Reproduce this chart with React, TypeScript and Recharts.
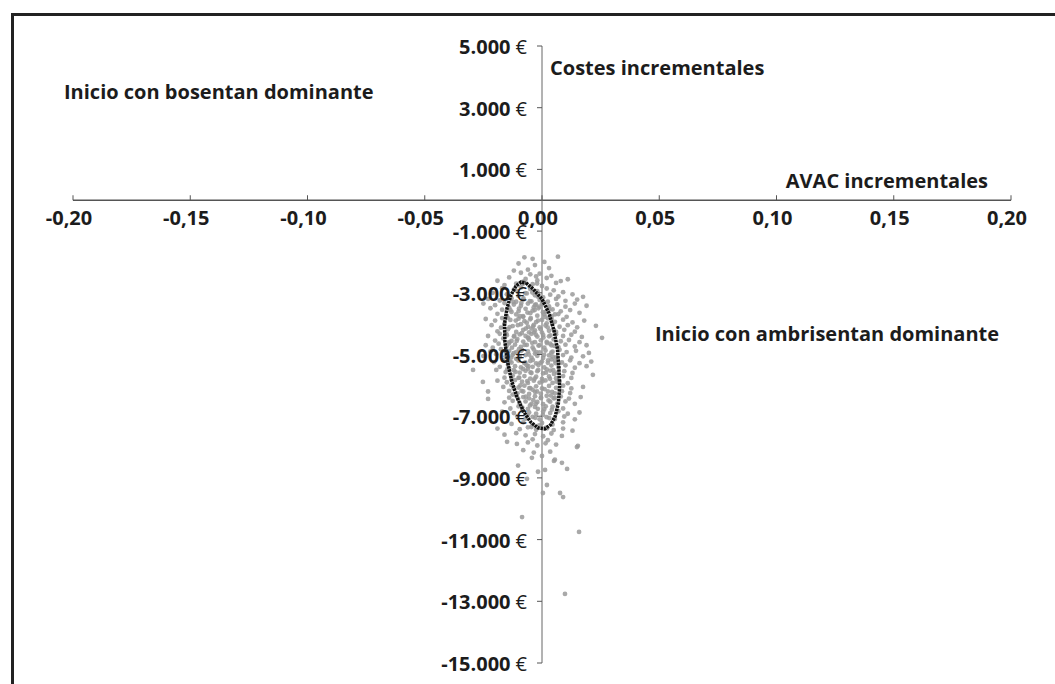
import { ScatterChart, Scatter, XAxis, YAxis, ReferenceLine } from 'recharts'

const X_MIN = -0.2
const X_MAX = 0.2
const Y_MIN = -15000
const Y_MAX = 5000

const X_TICKS = [-0.2, -0.15, -0.1, -0.05, 0, 0.05, 0.1, 0.15, 0.2]
const Y_TICKS = [-15000, -13000, -11000, -9000, -7000, -5000, -3000, -1000, 1000, 3000, 5000]

// incremental QALY, incremental cost (€) per simulation
const simulations: [number, number][] = [
  [-0.0075, -1850], [-0.004, -1900], [0.0068, -1830], [-0.01, -2050], [-0.003, -2100], [0.001, -2000], [-0.006, -2250], [0.003, -2200], [-0.012, -2280],
  [-0.009, -2350], [-0.005, -2400], [-0.001, -2380], [0.004, -2450], [-0.014, -2500], [-0.007, -2550], [-0.002, -2600], [0.002, -2520], [0.008, -2620],
  [-0.011, -2700], [-0.016, -2750], [-0.004, -2720], [0.0, -2780], [0.006, -2680], [-0.008, -2640], [0.011, -2560], [-0.019, -2610], [-0.0025, -2470],
  [-0.017, -2850], [-0.012, -2900], [-0.009, -2830], [-0.005, -2880], [-0.002, -2950], [0.002, -2860], [0.005, -2920], [0.009, -2980], [0.013, -3050],
  [-0.021, -3000], [-0.015, -3050], [-0.01, -3100], [-0.0065, -3020], [-0.003, -3080], [0.0005, -3150], [0.0035, -3060], [0.007, -3120], [0.0175, -3130],
  [-0.023, -3200], [-0.018, -3250], [-0.013, -3180], [-0.008, -3220], [-0.0045, -3280], [-0.001, -3230], [0.0025, -3290], [0.006, -3200], [0.01, -3260],
  [0.015, -3220], [-0.011, -3290],
  [-0.025, -3350], [-0.02, -3400], [-0.016, -3330], [-0.012, -3380], [-0.009, -3420], [-0.006, -3350], [-0.003, -3400], [0.0, -3360], [0.003, -3440],
  [0.0065, -3380], [0.01, -3450], [0.014, -3350], [0.019, -3420], [-0.022, -3500], [-0.017, -3550], [-0.014, -3480], [-0.01, -3600], [-0.007, -3520],
  [-0.004, -3580], [-0.0015, -3500], [0.0015, -3620], [0.0045, -3540], [0.008, -3600], [0.012, -3560], [0.016, -3650], [-0.019, -3680],
  [-0.015, -3750], [-0.011, -3700], [-0.008, -3780], [-0.005, -3660], [-0.002, -3740], [0.001, -3700], [0.004, -3760], [0.007, -3690], [0.0105, -3780],
  [-0.013, -3620], [-0.0035, -3470], [0.0055, -3700],
  [-0.024, -3850], [-0.02, -3900], [-0.017, -3820], [-0.0135, -3880], [-0.01, -3840], [-0.0075, -3920], [-0.005, -3860], [-0.0025, -3950], [0.0, -3880],
  [0.0025, -3830], [0.0055, -3940], [0.009, -3870], [0.013, -3960], [0.018, -3900], [-0.0215, -4050], [-0.016, -4000], [-0.0125, -4080],
  [-0.009, -4020], [-0.006, -4100], [-0.0035, -4040], [-0.001, -4120], [0.0015, -4060], [0.0045, -4000], [0.0075, -4100], [0.011, -4050], [0.015, -4120],
  [0.023, -4070], [-0.019, -4250], [-0.0145, -4180], [-0.011, -4270], [-0.008, -4200], [-0.0055, -4280], [-0.003, -4220], [0.0, -4290],
  [0.003, -4230], [0.006, -4270], [0.0095, -4200], [0.014, -4260], [-0.0175, -4130], [-0.0045, -4160], [0.002, -3990], [-0.0065, -3970],
  [-0.023, -4400], [-0.018, -4330], [-0.015, -4380], [-0.012, -4420], [-0.0095, -4350], [-0.007, -4400], [-0.0045, -4330], [-0.002, -4420],
  [0.0005, -4370], [0.003, -4410], [0.006, -4340], [0.009, -4400], [0.0125, -4360], [0.017, -4430], [0.0256, -4460], [-0.02, -4550],
  [-0.0165, -4480], [-0.013, -4560], [-0.0105, -4500], [-0.008, -4580], [-0.0055, -4520], [-0.003, -4600], [-0.0005, -4540], [0.002, -4590], [0.005, -4510],
  [0.008, -4570], [0.0115, -4530], [0.016, -4600], [-0.024, -4700], [-0.0185, -4650], [-0.015, -4720], [-0.0115, -4680],
  [-0.009, -4750], [-0.0065, -4690], [-0.004, -4770], [-0.0015, -4710], [0.001, -4780], [0.004, -4700], [0.007, -4760], [0.01, -4680], [0.014, -4740],
  [0.019, -4700], [-0.021, -4780], [-0.014, -4600], [-0.006, -4460], [0.0035, -4650],
  [-0.022, -4900], [-0.0175, -4830], [-0.014, -4880], [-0.011, -4920], [-0.0085, -4850], [-0.006, -4900], [-0.0035, -4840], [-0.001, -4930],
  [0.0015, -4870], [0.0045, -4910], [0.0075, -4850], [0.0105, -4920], [0.0145, -4880], [0.02, -4950], [-0.025, -5050], [-0.0195, -4990],
  [-0.0155, -5060], [-0.0125, -5010], [-0.0095, -5080], [-0.007, -5020], [-0.0045, -5100], [-0.002, -5040], [0.0005, -5110], [0.003, -5030], [0.006, -5090],
  [0.009, -5020], [0.0125, -5100], [0.0175, -5060], [-0.0205, -5250], [-0.0165, -5180], [-0.013, -5260], [-0.01, -5200],
  [-0.0075, -5280], [-0.005, -5210], [-0.0025, -5290], [0.0, -5230], [0.0025, -5270], [0.0055, -5200], [0.0085, -5260], [0.012, -5190], [0.016, -5280],
  [0.021, -5230], [-0.011, -5140], [-0.003, -4970], [0.004, -5160],
  [-0.0294, -5500], [-0.018, -5400], [-0.0145, -5330], [-0.0115, -5380], [-0.009, -5420], [-0.0065, -5350], [-0.004, -5400], [-0.0015, -5340],
  [0.001, -5420], [0.004, -5360], [0.007, -5410], [0.01, -5350], [0.014, -5430], [0.019, -5380], [-0.0195, -5500], [-0.0155, -5570],
  [-0.012, -5510], [-0.0095, -5590], [-0.007, -5530], [-0.0045, -5600], [-0.002, -5540], [0.0005, -5610], [0.0035, -5520], [0.0065, -5590], [0.0095, -5540],
  [0.013, -5600], [0.0217, -5660], [-0.016, -5750], [-0.0125, -5680], [-0.01, -5760], [-0.0075, -5700], [-0.005, -5780], [-0.0025, -5720],
  [0.0, -5790], [0.003, -5710], [0.006, -5770], [0.009, -5700], [0.0125, -5760], [-0.006, -5460], [0.002, -5480], [-0.014, -5460],
  [-0.0252, -5890], [-0.019, -5850], [-0.015, -5900], [-0.0115, -5830], [-0.0085, -5880], [-0.006, -5920], [-0.0035, -5850], [-0.001, -5910], [0.0015, -5840],
  [0.0045, -5920], [0.0075, -5860], [0.011, -5930], [0.0175, -6050], [-0.0165, -6050], [-0.013, -5990], [-0.01, -6070],
  [-0.0075, -6010], [-0.005, -6090], [-0.0025, -6030], [0.0, -6100], [0.003, -6020], [0.006, -6080], [0.009, -6010], [0.0125, -6100], [-0.023, -6200],
  [-0.014, -6180], [-0.0105, -6260], [-0.008, -6200], [-0.0055, -6280], [-0.003, -6210], [-0.0005, -6270], [0.0025, -6200], [0.0055, -6260],
  [0.0085, -6190], [0.012, -6250], [-0.004, -6140],
  [-0.023, -6440], [-0.014, -6400], [-0.011, -6330], [-0.008, -6380], [-0.0055, -6420], [-0.003, -6350], [-0.0005, -6410], [0.002, -6340],
  [0.005, -6420], [0.008, -6360], [0.0115, -6430], [0.0165, -6380], [-0.016, -6550], [-0.0125, -6500], [-0.0095, -6580], [-0.007, -6520], [-0.0045, -6600],
  [-0.002, -6540], [0.0005, -6610], [0.0035, -6530], [0.0065, -6590], [0.01, -6520], [0.014, -6600], [-0.0135, -6750], [-0.01, -6680],
  [-0.006, -6760], [-0.003, -6700], [0.001, -6770], [0.0045, -6690], [0.009, -6750],
  [-0.017, -6850], [-0.012, -6900], [-0.0085, -6830], [-0.0055, -6880], [-0.0025, -6920], [0.0005, -6850], [0.0035, -6900], [0.007, -6840], [0.011, -6920],
  [0.016, -6880], [-0.0105, -7000], [-0.007, -7080], [-0.004, -7020], [-0.001, -7100], [0.002, -7030], [0.0055, -7090], [0.0095, -7010],
  [0.014, -7100], [-0.013, -7250], [-0.008, -7200], [-0.004, -7280], [0.0, -7220], [0.0045, -7270], [0.009, -7200],
  [-0.019, -7400], [-0.0095, -7420], [-0.006, -7360], [-0.0025, -7440], [0.0015, -7380], [0.005, -7450], [0.009, -7400], [0.013, -7470],
  [-0.016, -7600], [-0.011, -7550], [-0.007, -7620], [-0.003, -7580], [0.0005, -7650], [0.004, -7560], [0.0085, -7640], [-0.004, -7750], [0.0025, -7780],
  [-0.0149, -7830], [-0.0107, -7900], [-0.006, -7850], [-0.002, -7950], [0.0015, -7880], [0.006, -7920], [0.0153, -7960], [0.0149, -8000], [-0.008, -8100],
  [0.0, -8290], [-0.0035, -8180], [0.0035, -8150],
  [-0.0043, -8350], [0.0055, -8410], [0.0085, -8510], [0.0107, -8710], [-0.0017, -8800], [0.0013, -8740], [0.0021, -9230], [0.0004, -9490], [0.0077, -9490],
  [0.009, -9620], [-0.0064, -9030], [-0.0085, -10270], [0.0158, -10750], [0.0098, -12760], [0.0051, -8450], [-0.0102, -8600],
]

// denser runs inside the ellipse core
const coreSimulations: [number, number][] = [
  [-0.0105, -2950], [-0.0072, -3010], [-0.0041, -2990], [-0.0018, -3120], [-0.0122, -3300], [-0.0088, -3330], [-0.0052, -3270], [-0.0026, -3380],
  [0.0008, -3310], [-0.0135, -3560], [-0.0098, -3510], [-0.0062, -3640], [-0.0031, -3560], [0.0004, -3630], [0.0031, -3540], [-0.0146, -3810],
  [-0.0112, -3900], [-0.0081, -3760], [-0.0048, -3820], [-0.0017, -3900], [0.0012, -3780], [0.0041, -3850], [-0.0138, -4110], [-0.0103, -4050],
  [-0.0069, -4160], [-0.0038, -4090], [-0.0006, -4180], [0.0024, -4120], [0.005, -4200], [-0.0152, -4330], [-0.0118, -4400], [-0.0086, -4310],
  [-0.0058, -4450], [-0.0026, -4360], [0.0006, -4450], [0.0036, -4380], [-0.0141, -4640], [-0.0108, -4560], [-0.0074, -4690], [-0.0042, -4620],
  [-0.0011, -4700], [0.0021, -4630], [0.0052, -4720], [-0.0155, -4900], [-0.0121, -4960], [-0.0089, -4880], [-0.0056, -5000], [-0.0024, -4920],
  [0.0009, -5010], [0.004, -4940], [-0.0138, -5220], [-0.0106, -5150], [-0.0071, -5260], [-0.0039, -5180], [-0.0007, -5270], [0.0026, -5190],
  [0.0058, -5280], [-0.0148, -5480], [-0.0113, -5560], [-0.0081, -5470], [-0.0049, -5580], [-0.0016, -5500], [0.0017, -5590], [0.0048, -5510],
  [-0.0129, -5820], [-0.0097, -5750], [-0.0063, -5860], [-0.0031, -5780], [0.0002, -5870], [0.0034, -5790], [0.0062, -5880], [-0.0121, -6100],
  [-0.0087, -6180], [-0.0054, -6090], [-0.0021, -6200], [0.0011, -6120], [0.0043, -6210], [-0.0102, -6430], [-0.0069, -6370], [-0.0037, -6480],
  [-0.0004, -6400], [0.0028, -6490], [0.0055, -6410], [-0.0084, -6720], [-0.0051, -6650], [-0.0018, -6760], [0.0016, -6680], [0.0042, -6790],
  [-0.0062, -6980], [-0.0029, -7050], [0.0004, -6960], [0.0031, -7060], [-0.0045, -7350], [-0.0012, -7300], [0.0022, -7390], [-0.0083, -2720],
  [-0.0052, -2810], [-0.0021, -2700], [-0.0094, -3760], [-0.0034, -4280], [-0.0098, -4830], [-0.0058, -5380], [-0.0092, -6000], [-0.0026, -6600],
  [-0.0128, -4780], [-0.0131, -5100], [0.0046, -5070], [0.0051, -5630], [-0.0079, -3180], [-0.0011, -3450], [-0.0125, -6300], [0.0038, -6330],
]

// confidence ellipse outline, read around the curve
const ellipse: [number, number][] = [
  [-0.0068, -2680], [-0.0038, -2872], [0.0, -3205], [0.003, -3666], [0.0051, -4220], [0.0066, -4829], [0.0072, -5451], [0.0075, -6048],
  [0.007, -6570], [0.0057, -6991], [0.0037, -7276], [0.0012, -7409], [-0.0017, -7380], [-0.0048, -7189], [-0.0078, -6855], [-0.0106, -6395],
  [-0.013, -5840], [-0.0147, -5231], [-0.0158, -4609], [-0.016, -4012], [-0.0149, -3491], [-0.0132, -3069], [-0.0111, -2784], [-0.009, -2651],
  [-0.0068, -2680],
]

const W = 1055
const H = 684
const M = { top: 46, right: 44, bottom: 20, left: 72 }
const PLOT_L = 73
const PLOT_W = W - PLOT_L - M.right
const PLOT_H = H - M.top - 21
const ZERO_X = PLOT_L + (PLOT_W * (0 - X_MIN)) / (X_MAX - X_MIN)
const ZERO_Y = M.top + (PLOT_H * (Y_MAX - 0)) / (Y_MAX - Y_MIN)

const FONT = '"Open Sans", "Noto Sans", sans-serif'
const INK = '#1c1c1c'
const AXIS = '#555'

function fmtX(v: number) {
  const s = Math.abs(v).toFixed(2).replace('.', ',')
  return v < -1e-9 ? `-${s}` : s
}

function fmtY(v: number) {
  const s = Math.abs(v).toString().replace(/\B(?=(\d{3})+(?!\d))/g, '.')
  return v < 0 ? `-${s}` : s
}

function XTick({ x, payload }: any) {
  return (
    <g>
      <line x1={x} x2={x} y1={ZERO_Y} y2={ZERO_Y - 5} stroke={AXIS} strokeWidth={1} />
      <text x={x - 4} y={ZERO_Y + 17} textAnchor="middle" dominantBaseline="central"
        fontFamily={FONT} fontSize={20} fontWeight={700} fill={INK}>
        {fmtX(payload.value)}
      </text>
    </g>
  )
}

function YTick({ y, payload }: any) {
  return (
    <g>
      <line x1={ZERO_X - 5} x2={ZERO_X} y1={y} y2={y} stroke={AXIS} strokeWidth={1} />
      <text x={ZERO_X - 15} y={y} textAnchor="end" dominantBaseline="central"
        fontFamily={FONT} fontSize={20} fill={INK}>
        <tspan fontWeight={700}>{fmtY(payload.value)}</tspan>
        <tspan fontWeight={400} dx={5}>€</tspan>
      </text>
    </g>
  )
}

const dot = (p: any) => <circle cx={p.cx} cy={p.cy} r={2.4} fill="#9a9a9a" fillOpacity={0.85} />
const noDot = () => <g />

const labels = [
  { text: 'Inicio con bosentan dominante', x: 64, y: 91, anchor: 'start' },
  { text: 'Costes incrementales', x: 550, y: 67, anchor: 'start' },
  { text: 'AVAC incrementales', x: 988, y: 180, anchor: 'end' },
  { text: 'Inicio con ambrisentan dominante', x: 655, y: 333, anchor: 'start' },
]

export default function App() {
  const cloud = [...simulations, ...coreSimulations].map(([q, c]) => ({ q, c }))
  const ring = ellipse.map(([q, c]) => ({ q, c }))

  return (
    <div style={{ position: 'absolute', left: 0, top: 0, width: W, height: H, background: '#fff', overflow: 'hidden' }}>
      <div style={{
        position: 'absolute', left: 11, top: 13, right: 0, bottom: 0,
        borderLeft: '3px solid #222', borderTop: '3px solid #222',
      }} />
      <ScatterChart width={W} height={H} margin={M} style={{ position: 'absolute', left: 0, top: 0 }}>
        <XAxis type="number" dataKey="q" domain={[X_MIN, X_MAX]} ticks={X_TICKS} height={1}
          axisLine={false} tickLine={false} tick={<XTick />} interval={0} allowDataOverflow />
        <YAxis type="number" dataKey="c" domain={[Y_MIN, Y_MAX]} ticks={Y_TICKS} width={1}
          axisLine={false} tickLine={false} tick={<YTick />} interval={0} allowDataOverflow />
        <Scatter data={cloud} shape={dot} isAnimationActive={false} />
        <ReferenceLine y={0} stroke={AXIS} strokeWidth={1.3} />
        <ReferenceLine x={0} stroke="#666" strokeWidth={1} />
        <Scatter data={ring} shape={noDot} line={{ stroke: '#111', strokeWidth: 3.5, strokeDasharray: '2.5 0.8' }}
          lineType="joint" isAnimationActive={false} />
      </ScatterChart>
      <svg width={W} height={H} style={{ position: 'absolute', left: 0, top: 0, pointerEvents: 'none' }}>
        {labels.map((l) => (
          <text key={l.text} x={l.x} y={l.y} textAnchor={l.anchor as any} dominantBaseline="central"
            fontFamily={FONT} fontSize={20} fontWeight={700} fill={INK}>
            {l.text}
          </text>
        ))}
      </svg>
    </div>
  )
}
